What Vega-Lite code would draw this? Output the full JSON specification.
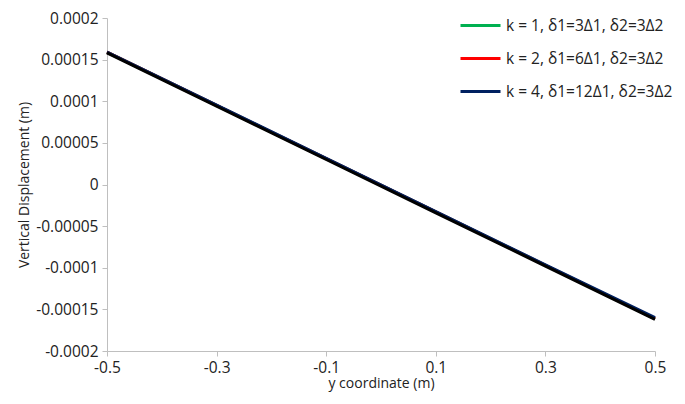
{
  "$schema": "https://vega.github.io/schema/vega-lite/v6.json",
  "width": 548,
  "height": 333,
  "autosize": {"type": "none"},
  "padding": {"left": 107, "top": 18, "right": 30, "bottom": 53},
  "config": {
    "font": "Open Sans",
    "view": {"stroke": null},
    "axis": {"labelFont": "Open Sans", "titleFont": "Open Sans", "labelFontSize": 15.5, "titleFontSize": 14, "labelColor": "#222", "titleColor": "#222", "titleFontWeight": "normal", "domainColor": "#bfbfbf", "tickColor": "#bfbfbf", "grid": false, "tickSize": 5, "labelFlush": false}
  },
  "datasets": {
    "fem": [
      {"series": "k = 1, δ1=3Δ1, δ2=3Δ2", "y": -0.5, "d": 0.000159},
      {"series": "k = 1, δ1=3Δ1, δ2=3Δ2", "y": -0.3, "d": 0.000095},
      {"series": "k = 1, δ1=3Δ1, δ2=3Δ2", "y": -0.1, "d": 0.000031},
      {"series": "k = 1, δ1=3Δ1, δ2=3Δ2", "y": 0.1, "d": -0.000033},
      {"series": "k = 1, δ1=3Δ1, δ2=3Δ2", "y": 0.3, "d": -0.000097},
      {"series": "k = 1, δ1=3Δ1, δ2=3Δ2", "y": 0.5, "d": -0.000161},
      {"series": "k = 2, δ1=6Δ1, δ2=3Δ2", "y": -0.5, "d": 0.000159},
      {"series": "k = 2, δ1=6Δ1, δ2=3Δ2", "y": -0.3, "d": 0.000095},
      {"series": "k = 2, δ1=6Δ1, δ2=3Δ2", "y": -0.1, "d": 0.000031},
      {"series": "k = 2, δ1=6Δ1, δ2=3Δ2", "y": 0.1, "d": -0.000033},
      {"series": "k = 2, δ1=6Δ1, δ2=3Δ2", "y": 0.3, "d": -0.000097},
      {"series": "k = 2, δ1=6Δ1, δ2=3Δ2", "y": 0.5, "d": -0.000161},
      {"series": "k = 4, δ1=12Δ1, δ2=3Δ2", "y": -0.5, "d": 0.000159},
      {"series": "k = 4, δ1=12Δ1, δ2=3Δ2", "y": -0.3, "d": 0.0000955},
      {"series": "k = 4, δ1=12Δ1, δ2=3Δ2", "y": -0.1, "d": 0.0000315},
      {"series": "k = 4, δ1=12Δ1, δ2=3Δ2", "y": 0.1, "d": -0.0000325},
      {"series": "k = 4, δ1=12Δ1, δ2=3Δ2", "y": 0.3, "d": -0.0000965},
      {"series": "k = 4, δ1=12Δ1, δ2=3Δ2", "y": 0.5, "d": -0.00016}
    ],
    "ref": [
      {"y": -0.5, "d": 0.000158},
      {"y": -0.3, "d": 0.000094},
      {"y": -0.1, "d": 0.00003},
      {"y": 0.1, "d": -0.000034},
      {"y": 0.3, "d": -0.000098},
      {"y": 0.5, "d": -0.000162}
    ]
  },
  "layer": [
    {
      "data": {"name": "fem"},
      "mark": {"type": "line", "strokeWidth": 3},
      "encoding": {
        "x": {"field": "y", "type": "quantitative", "scale": {"domain": [-0.5, 0.5], "nice": false}, "axis": {"values": [-0.5, -0.3, -0.1, 0.1, 0.3, 0.5], "labelExpr": "replace(format(datum.value, '.1f'), '−', '-')", "title": "y coordinate (m)", "titlePadding": 1, "labelPadding": 4}},
        "y": {"field": "d", "type": "quantitative", "scale": {"domain": [-0.0002, 0.0002], "nice": false}, "axis": {"values": [-0.0002, -0.00015, -0.0001, -0.00005, 0, 0.00005, 0.0001, 0.00015, 0.0002], "labelExpr": "datum.value == 0 ? '0' : replace(format(datum.value, '~r'), '−', '-')", "title": "Vertical Displacement (m)", "titlePadding": 4, "labelPadding": 4}},
        "color": {
          "field": "series", "type": "nominal",
          "scale": {"domain": ["k = 1, δ1=3Δ1, δ2=3Δ2", "k = 2, δ1=6Δ1, δ2=3Δ2", "k = 4, δ1=12Δ1, δ2=3Δ2"], "range": ["#00b050", "#ff0000", "#002060"]},
          "legend": {"title": null, "orient": "none", "legendX": 352, "legendY": -14, "symbolType": "stroke", "symbolSize": 1600, "symbolStrokeWidth": 3, "labelFontSize": 15.5, "labelFont": "Open Sans", "labelColor": "#222", "rowPadding": 3, "labelOffset": 4, "labelLimit": 400}
        }
      }
    },
    {
      "data": {"name": "ref"},
      "mark": {"type": "line", "strokeWidth": 3, "color": "#000000"},
      "encoding": {
        "x": {"field": "y", "type": "quantitative"},
        "y": {"field": "d", "type": "quantitative"}
      }
    }
  ]
}
